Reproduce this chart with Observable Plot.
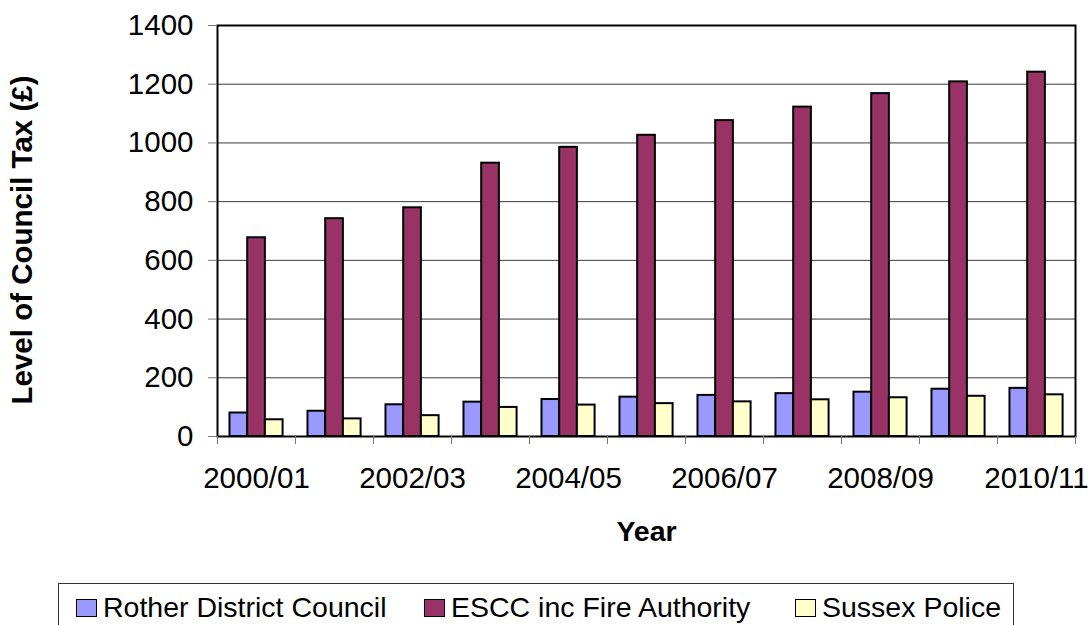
<!DOCTYPE html>
<html>
<head>
<meta charset="utf-8">
<script src="https://cdn.jsdelivr.net/npm/d3@7"></script>
<script src="https://cdn.jsdelivr.net/npm/@observablehq/plot@0.6"></script>
<style>
  html, body { margin: 0; padding: 0; background: #fff; overflow: hidden; }
  body { width: 1089px; height: 625px; position: relative; font-family: "Liberation Sans", Arial, sans-serif; }
  #chart { position: absolute; left: 0; top: 0; }
  #legend { position: absolute; left: 58px; top: 583px; width: 956px; height: 60px; border: 1px solid #333; box-sizing: border-box; }
  .item { position: absolute; top: 8px; display: flex; align-items: center; font-size: 28.5px; line-height: 31px; color: #000; white-space: nowrap; }
  .sw { width: 21px; height: 18px; border: 1.5px solid #000; margin-right: 6px; box-sizing: border-box; }
</style>
</head>
<body>
<div id="chart"></div>
<div id="legend"></div>
<script>
const years = ["2000/01","2001/02","2002/03","2003/04","2004/05","2005/06","2006/07","2007/08","2008/09","2009/10","2010/11"];
const seriesNames = ["Rother District Council", "ESCC inc Fire Authority", "Sussex Police"];
const seriesColors = ["#9999FF", "#993366", "#FFFFCC"];
const rother = [80, 86, 108, 117, 126, 134, 140, 146, 151, 161, 164];
const escc = [677, 742, 779, 931, 985, 1026, 1076, 1122, 1168, 1208, 1241];
const police = [57, 60, 71, 99, 107, 112, 118, 125, 132, 137, 142];
const yTicks = [0, 200, 400, 600, 800, 1000, 1200, 1400];
const xLabelYears = ["2000/01","2002/03","2004/05","2006/07","2008/09","2010/11"];

const valuesBySeries = [rother, escc, police];
const data = [];
years.forEach((y, i) => {
  valuesBySeries.forEach((vals, k) => {
    data.push({i, year: y, k, series: seriesNames[k], value: vals[i]});
  });
});

const outer = 0.16, bw = 0.227;
const font = "'Liberation Sans', Arial, sans-serif";

const plot = Plot.plot({
  width: 1089,
  height: 578,
  marginLeft: 217,
  marginRight: 14,
  marginTop: 25,
  marginBottom: 142,
  style: {fontFamily: font, background: "#fff", overflow: "visible"},
  x: {domain: [0, years.length], axis: null},
  y: {domain: [0, 1400], axis: null},
  color: {domain: seriesNames, range: seriesColors},
  marks: [
    Plot.gridY(yTicks.slice(1, -1), {stroke: "#3a3a3a", strokeOpacity: 1, strokeWidth: 1}),
    Plot.rectY(data, {
      x1: d => d.i + outer + d.k * bw,
      x2: d => d.i + outer + (d.k + 1) * bw,
      y: "value",
      fill: "series",
      stroke: "#000",
      strokeWidth: 2
    }),
    Plot.frame({stroke: "#000", strokeWidth: 2}),
    Plot.axisY(yTicks, {tickSize: 9, tickPadding: 15, fontSize: 29.5, stroke: "#777", fill: "#000", label: null, tickFormat: d3.format("d")}),
    Plot.axisX(d3.range(0, years.length + 1), {tickSize: 8, tickFormat: () => "", stroke: "#777", label: null}),
    Plot.axisX(xLabelYears.map(y => years.indexOf(y) + 0.5), {
      tickSize: 0, tickPadding: 31, fontSize: 29.5, fill: "#000",
      tickFormat: v => years[Math.round(v - 0.5)], label: null
    }),
    Plot.text(["Year"], {frameAnchor: "bottom", dy: 95, fontSize: 28.5, fontWeight: "bold", fill: "#000", lineAnchor: "middle"}),
    Plot.text(["Level of Council Tax (£)"], {frameAnchor: "left", dx: -195, dy: 9, rotate: -90, fontSize: 29.5, fontWeight: "bold", fill: "#000", textAnchor: "middle", lineAnchor: "middle"})
  ]
});
document.getElementById("chart").appendChild(plot);

const legend = document.getElementById("legend");
const lefts = [17, 365, 736];
seriesNames.forEach((name, k) => {
  const it = document.createElement("div");
  it.className = "item";
  it.style.left = lefts[k] + "px";
  const sw = document.createElement("div");
  sw.className = "sw";
  sw.style.background = seriesColors[k];
  const tx = document.createElement("span");
  tx.textContent = name;
  it.appendChild(sw);
  it.appendChild(tx);
  legend.appendChild(it);
});
</script>
</body>
</html>
